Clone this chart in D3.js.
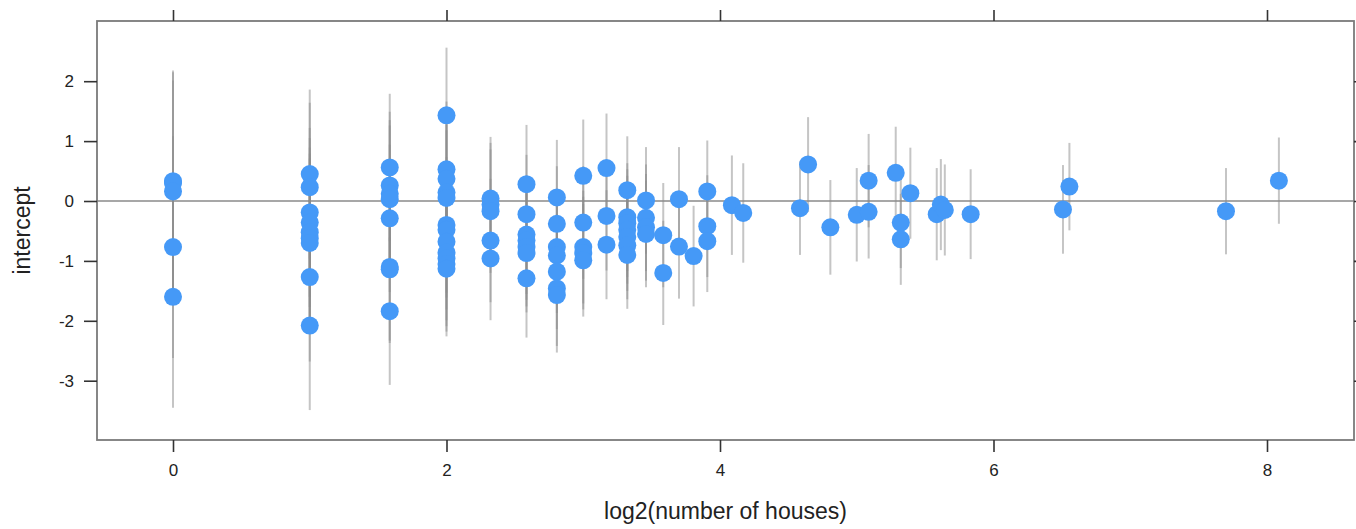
<!DOCTYPE html>
<html>
<head>
<meta charset="utf-8">
<script src="https://cdn.jsdelivr.net/npm/d3@7"></script>
<style>
  body { margin: 0; background: #fff; }
  text { font-family: "Liberation Sans", Arial, Helvetica, sans-serif; fill: #222; }
</style>
</head>
<body>
<div id="chart"></div>
<script>
var W = 1356, H = 529;

// log2(number of houses) per county
var logN = [
  0, 0, 0, 0, 0,
  1, 1, 1, 1, 1, 1, 1, 1, 1,
  1.585, 1.585, 1.585, 1.585, 1.585, 1.585, 1.585, 1.585,
  2, 2, 2, 2, 2, 2, 2, 2, 2, 2, 2, 2,
  2.322, 2.322, 2.322, 2.322, 2.322,
  2.585, 2.585, 2.585, 2.585, 2.585, 2.585, 2.585,
  2.807, 2.807, 2.807, 2.807, 2.807, 2.807, 2.807,
  3, 3, 3, 3, 3,
  3.17, 3.17, 3.17,
  3.322, 3.322, 3.322, 3.322, 3.322, 3.322, 3.322,
  3.459, 3.459, 3.459, 3.459,
  3.585, 3.585,
  3.7, 3.7,
  3.807,
  3.907, 3.907, 3.907,
  4.087, 4.17,
  4.585, 4.644, 4.807,
  5, 5.087, 5.087,
  5.285, 5.322, 5.322, 5.392,
  5.585, 5.615, 5.644, 5.833,
  6.508, 6.555, 7.7, 8.087
];

// estimated intercept per county
var intercept = [
  0.33, 0.30, 0.16, -0.77, -1.60,
  0.45, 0.23, -0.19, -0.36, -0.52, -0.62, -0.70, -1.27, -2.08,
  0.56, 0.26, 0.12, 0.03, -0.29, -1.10, -1.14, -1.84,
  1.43, 0.53, 0.37, 0.14, 0.05, -0.40, -0.48, -0.68, -0.86, -0.96, -1.05, -1.13,
  0.04, -0.06, -0.17, -0.66, -0.96,
  0.28, -0.22, -0.56, -0.66, -0.77, -0.87, -1.29,
  0.06, -0.38, -0.77, -0.91, -1.18, -1.46, -1.57,
  0.42, -0.36, -0.77, -0.87, -0.99,
  0.55, -0.25, -0.73,
  0.18, -0.27, -0.37, -0.48, -0.60, -0.74, -0.90,
  0.01, -0.28, -0.44, -0.55,
  -0.57, -1.20,
  0.03, -0.76,
  -0.92,
  0.16, -0.42, -0.67,
  -0.07, -0.20,
  -0.12, 0.61, -0.44,
  -0.23, 0.34, -0.18,
  0.47, -0.36, -0.64, 0.13,
  -0.22, -0.06, -0.15, -0.22,
  -0.14, 0.24, -0.17, 0.34
];

// half-length of each interval (roughly 2 standard errors)
var halfWidth = [
  1.85, 1.85, 1.85, 1.85, 1.85,
  1.41, 1.41, 1.41, 1.41, 1.41, 1.41, 1.41, 1.41, 1.41,
  1.23, 1.23, 1.23, 1.23, 1.23, 1.23, 1.23, 1.23,
  1.13, 1.13, 1.13, 1.13, 1.13, 1.13, 1.13, 1.13, 1.13, 1.13, 1.13, 1.13,
  1.03, 1.03, 1.03, 1.03, 1.03,
  0.99, 0.99, 0.99, 0.99, 0.99, 0.99, 0.99,
  0.96, 0.96, 0.96, 0.96, 0.96, 0.96, 0.96,
  0.94, 0.94, 0.94, 0.94, 0.94,
  0.91, 0.91, 0.91,
  0.90, 0.90, 0.90, 0.90, 0.90, 0.90, 0.90,
  0.89, 0.89, 0.89, 0.89,
  0.87, 0.87,
  0.87, 0.87,
  0.84,
  0.85, 0.85, 0.85,
  0.83, 0.83,
  0.78, 0.79, 0.79,
  0.78, 0.78, 0.78,
  0.77, 0.76, 0.76, 0.76,
  0.77, 0.76, 0.76, 0.75,
  0.74, 0.73, 0.72, 0.72
];

var xTicks = [0, 2, 4, 6, 8];
var yTicks = [-3, -2, -1, 0, 1, 2];

var box = { left: 97, right: 1354, top: 21, bottom: 440 };
var blue = "#4599f7";

var x = d3.scaleLinear().domain([0, 2]).range([173, 446.5]);
var y = d3.scaleLinear().domain([0, 1]).range([201, 141.1]);

var svg = d3.select("#chart").append("svg")
    .attr("width", W)
    .attr("height", H);

var pts = logN.map((v, i) => ({ x: v, y: intercept[i], h: halfWidth[i] }));

// zero reference line
svg.append("line")
    .attr("x1", box.left).attr("x2", box.right)
    .attr("y1", y(0)).attr("y2", y(0))
    .attr("stroke", "#8a8a8a")
    .attr("stroke-width", 1.6);

// interval lines
svg.append("g").selectAll("line")
    .data(pts)
    .enter()
    .append("line")
    .attr("x1", d => x(d.x))
    .attr("x2", d => x(d.x))
    .attr("y1", d => y(d.y + d.h))
    .attr("y2", d => y(d.y - d.h))
    .attr("stroke", "#8c8c8c")
    .attr("stroke-opacity", 0.5)
    .attr("stroke-width", 2);

// points
svg.append("g").selectAll("circle")
    .data(pts)
    .enter()
    .append("circle")
    .attr("cx", d => x(d.x))
    .attr("cy", d => y(d.y))
    .attr("r", 9)
    .attr("fill", blue);

// frame
svg.append("rect")
    .attr("x", box.left).attr("y", box.top)
    .attr("width", box.right - box.left)
    .attr("height", box.bottom - box.top)
    .attr("fill", "none")
    .attr("stroke", "#7a7a7a")
    .attr("stroke-width", 1.8);

var fmt = d => String(d); // plain hyphen minus, as in the original
var bottomAxis = d3.axisBottom(x).tickValues(xTicks).tickSize(12).tickPadding(12).tickFormat(fmt);
var topAxis = d3.axisTop(x).tickValues(xTicks).tickSize(11).tickFormat("");
var leftAxis = d3.axisLeft(y).tickValues(yTicks).tickSize(13).tickPadding(10).tickFormat(fmt);
var rightAxis = d3.axisRight(y).tickValues(yTicks).tickSize(10).tickFormat("");

function styleAxis(g) {
  g.select(".domain").remove();
  g.selectAll(".tick line").attr("stroke", "#333").attr("stroke-width", 1.6);
  g.selectAll(".tick text")
      .style("font-size", "17px")
      .style("font-family", "Liberation Sans, Arial, sans-serif")
      .attr("fill", "#222");
}

svg.append("g").attr("transform", "translate(0," + box.bottom + ")").call(bottomAxis).call(styleAxis);
svg.append("g").attr("transform", "translate(0," + box.top + ")").call(topAxis).call(styleAxis);
svg.append("g").attr("transform", "translate(" + box.left + ",0)").call(leftAxis).call(styleAxis);
svg.append("g").attr("transform", "translate(" + box.right + ",0)").call(rightAxis).call(styleAxis);

svg.append("text")
    .attr("x", (box.left + box.right) / 2)
    .attr("y", 519)
    .attr("text-anchor", "middle")
    .style("font-size", "23px")
    .text("log2(number of houses)");

svg.append("text")
    .attr("transform", "translate(30," + ((box.top + box.bottom) / 2) + ") rotate(-90)")
    .attr("text-anchor", "middle")
    .style("font-size", "23px")
    .text("intercept");
</script>
</body>
</html>
